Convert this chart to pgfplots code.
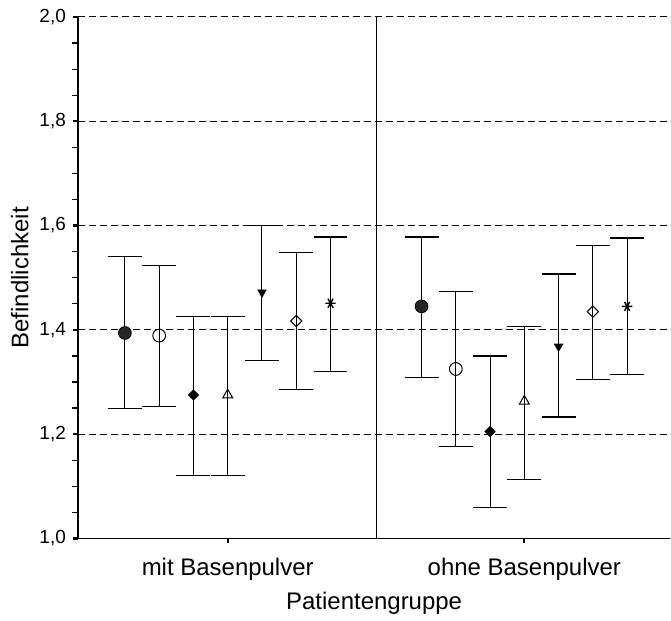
\documentclass[border=0pt]{standalone}
\usepackage{pgfplots}
\pgfplotsset{compat=1.18}
\usepackage{pgfplotstable}
\usepackage{fontspec}
\setmainfont{Liberation Sans}
\usetikzlibrary{plotmarks}

% groups: mit Basenpulver at 0.5, ohne Basenpulver at 1.5
% columns: x, mean, upper and lower end of the error bar
\pgfplotstableread{
x      y     hi    lo
0.1535 1.394 1.540 1.249
1.1535 1.445 1.578 1.309
}\sA
\pgfplotstableread{
x      y     hi    lo
0.2690 1.389 1.523 1.253
1.2690 1.325 1.473 1.177
}\sB
\pgfplotstableread{
x      y     hi    lo
0.3845 1.275 1.425 1.121
1.3845 1.205 1.350 1.060
}\sC
\pgfplotstableread{
x      y     hi    lo
0.5000 1.275 1.425 1.121
1.5000 1.263 1.406 1.113
}\sD
\pgfplotstableread{
x      y     hi    lo
0.6155 1.472 1.600 1.341
1.6155 1.368 1.507 1.233
}\sE
\pgfplotstableread{
x      y     hi    lo
0.7310 1.417 1.548 1.285
1.7310 1.435 1.562 1.305
}\sF
\pgfplotstableread{
x      y     hi    lo
0.8465 1.451 1.578 1.320
1.8465 1.445 1.576 1.314
}\sG

\pgfplotsset{
  ebar/.style={
    black, only marks,
    error bars/.cd, y dir=both, y explicit,
    error mark=|,
    error bar style={line width=0.5pt, solid},
    error mark options={line width=0.6pt, mark size=8.5pt},
    /pgfplots/.cd,
  },
  table/ebtab/.style={x=x, y=y,
    y error plus expr=\thisrow{hi}-\thisrow{y},
    y error minus expr=\thisrow{y}-\thisrow{lo}},
}

\begin{document}
\begin{tikzpicture}
\begin{axis}[
  scale only axis,
  width=296.5pt, height=261pt,
  xmin=-0.005, xmax=1.992,
  ymin=1.0, ymax=2.0,
  axis lines=left,
  axis line style={-, line width=0.7pt},
  clip=false,
  xtick={0.5,1.5},
  xticklabels={mit Basenpulver, ohne Basenpulver},
  ytick={1.0,1.2,1.4,1.6,1.8,2.0},
  minor y tick num=3,
  tick align=outside,
  major tick length=2.5pt,
  minor tick length=3pt,
  major tick style={line width=1.1pt, black},
  minor tick style={line width=0.6pt, black},
  ymajorgrids=true,
  grid style={black, line width=0.5pt, dash pattern=on 3.5pt off 2pt},
  /pgf/number format/.cd, use comma, fixed, fixed zerofill, precision=1,
    assume math mode=true,
  /pgfplots/.cd,
  yticklabel style={font=\fontsize{9.5}{11}\selectfont},
  xticklabel style={font=\fontsize{12}{14}\selectfont, anchor=base, yshift=-16pt},
  xlabel={Patientengruppe},
  ylabel={Befindlichkeit},
  xlabel style={font=\fontsize{12}{14}\selectfont, at={(axis description cs:0.5,0)}, anchor=base, yshift=-35.5pt},
  ylabel style={font=\fontsize{12}{14}\selectfont, at={(axis description cs:-0.098,0.5)}, anchor=center},
]

\addplot[black, line width=0.5pt, no marks, forget plot] coordinates {(1,1.0) (1,2.0)};

\addplot[ebar, mark=*, mark size=3.2pt, mark options={fill=black!85, draw=black}] table[ebtab] {\sA};
\addplot[ebar, mark=o, mark size=3.2pt, mark options={line width=0.5pt}] table[ebtab] {\sB};
\addplot[ebar, mark=square*, mark size=1.8pt, mark options={rotate=45}] table[ebtab] {\sC};
\addplot[ebar, mark=triangle, mark size=2.9pt, mark options={line width=0.5pt}] table[ebtab] {\sD};
\addplot[ebar, mark=triangle*, mark size=2.4pt, mark options={rotate=180}] table[ebtab] {\sE};
\addplot[ebar, mark=square, mark size=2pt, mark options={rotate=45, line width=0.5pt}] table[ebtab] {\sF};
\addplot[ebar, mark=asterisk, mark size=2.6pt, mark options={line width=0.7pt, rotate=90}] table[ebtab] {\sG};

\coordinate (bl) at (rel axis cs:0,0);
\coordinate (tr) at (rel axis cs:1,1);
\end{axis}
\path (bl) ++(-39pt,-39.5pt) (tr) ++(0,8.5pt);
\end{tikzpicture}
\end{document}
